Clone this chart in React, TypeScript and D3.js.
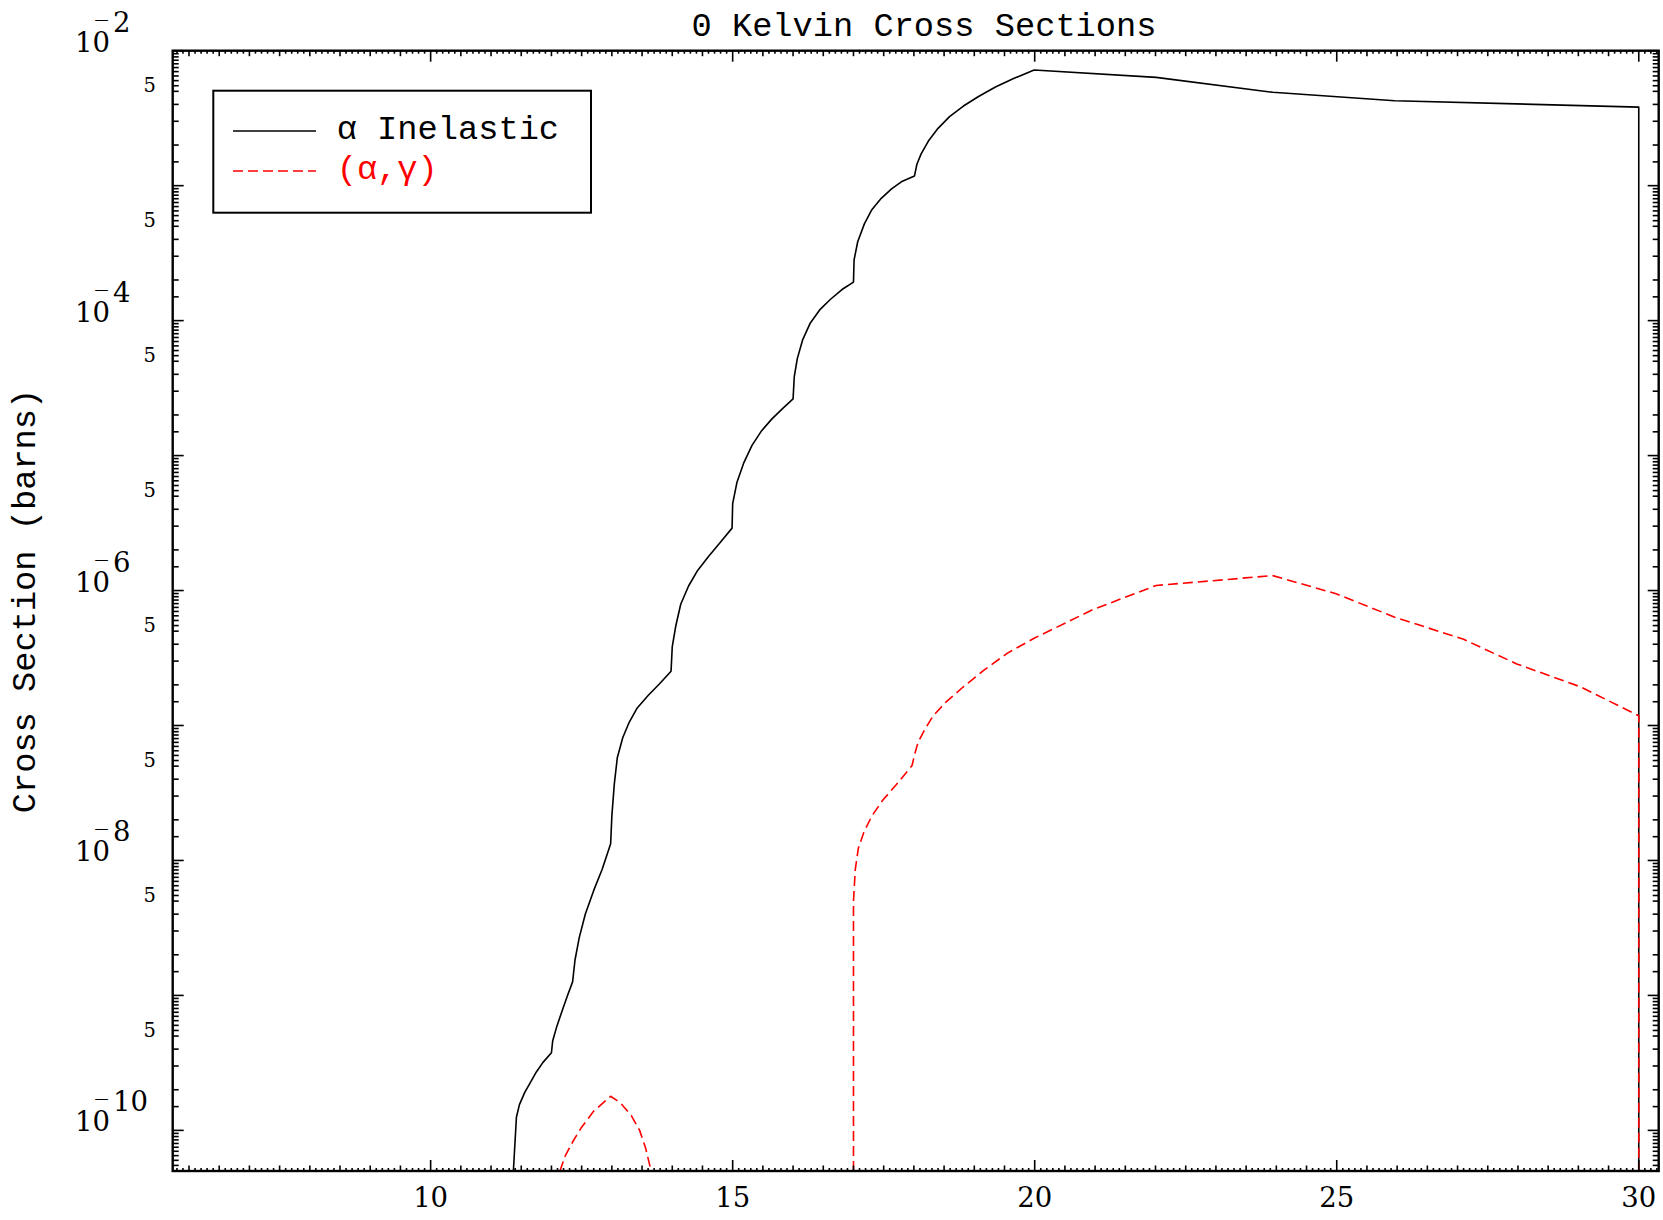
import React from "react";
import * as d3 from "d3";

// ---------- data ----------
const INEL_X = [11.37, 11.42, 11.47, 11.56, 11.65, 11.75, 11.86, 12.0, 12.02, 12.09, 12.18, 12.26, 12.35, 12.39, 12.46, 12.56, 12.7, 12.84, 12.98, 13.0, 13.04, 13.09, 13.18, 13.28, 13.42, 13.6, 13.79, 13.98, 14.0, 14.06, 14.14, 14.27, 14.42, 14.6, 14.79, 14.99, 15.0, 15.07, 15.18, 15.32, 15.48, 15.65, 15.83, 16.0, 16.02, 16.07, 16.16, 16.28, 16.44, 16.62, 16.81, 17.0, 17.01, 17.07, 17.18, 17.3, 17.46, 17.63, 17.81, 18.01, 18.05, 18.12, 18.24, 18.4, 18.59, 18.82, 19.07, 19.35, 19.65, 19.99, 22.01, 23.94, 25.96, 30.0, 30.0];
const INEL_Y = [0, 1.25e-10, 1.55e-10, 1.92e-10, 2.26e-10, 2.71e-10, 3.19e-10, 3.76e-10, 4.59e-10, 5.92e-10, 7.76e-10, 9.82e-10, 1.26e-9, 1.83e-9, 2.68e-9, 3.99e-9, 6.0e-9, 8.61e-9, 1.33e-8, 2.13e-8, 3.66e-8, 5.76e-8, 8.11e-8, 1.04e-7, 1.35e-7, 1.67e-7, 2.04e-7, 2.52e-7, 3.84e-7, 5.51e-7, 7.91e-7, 1.08e-6, 1.41e-6, 1.79e-6, 2.26e-6, 2.9e-6, 4.4e-6, 6.31e-6, 8.75e-6, 1.19e-5, 1.53e-5, 1.87e-5, 2.24e-5, 2.63e-5, 3.85e-5, 5.23e-5, 7.24e-5, 9.51e-5, 1.2e-4, 1.44e-4, 1.7e-4, 1.93e-4, 2.82e-4, 3.84e-4, 5.21e-4, 6.6e-4, 8.06e-4, 9.48e-4, 1.08e-3, 1.18e-3, 1.44e-3, 1.72e-3, 2.14e-3, 2.66e-3, 3.25e-3, 3.89e-3, 4.58e-3, 5.38e-3, 6.22e-3, 7.19e-3, 6.34e-3, 4.92e-3, 4.26e-3, 3.82e-3, 0];

// null marks a break in the (alpha,gamma) curve
const CAP_X = [12.14, 12.23, 12.35, 12.49, 12.7, 12.98, 13.14, 13.32, 13.46, 13.56, 13.65, 15.0, 17.0, 17.0, 17.03, 17.08, 17.17, 17.3, 17.48, 17.71, 17.97, 18.01, 18.07, 18.18, 18.32, 18.53, 18.81, 19.16, 19.55, 19.99, 20.96, 22.01, 23.94, 24.99, 25.96, 27.1, 27.98, 29.04, 30.0, 30.0];
const CAP_Y: (number | null)[] = [0, 6.49e-11, 8.2e-11, 1.04e-10, 1.39e-10, 1.79e-10, 1.6e-10, 1.29e-10, 1.0e-10, 7.36e-11, 0, null, 0, 5.0e-9, 8.57e-9, 1.23e-8, 1.61e-8, 2.12e-8, 2.78e-8, 3.65e-8, 5.05e-8, 6.05e-8, 7.52e-8, 9.33e-8, 1.18e-7, 1.49e-7, 1.92e-7, 2.57e-7, 3.44e-7, 4.43e-7, 7.21e-7, 1.09e-6, 1.29e-6, 9.46e-7, 6.35e-7, 4.35e-7, 2.86e-7, 1.93e-7, 1.18e-7, 0];

const X_DOMAIN = [5.73, 30.33];
const Y_DOMAIN = [5e-11, 1e-2];
const X_LABEL_TICKS = [10, 15, 20, 25, 30];
const Y_MINOR_FACTORS = [1.5, 2, 3, 4, 5, 5.5, 6, 6.5, 7, 7.5, 8, 8.5, 9, 9.5];
const Y_DECADE_LABELS = [-2, -4, -6, -8, -10];
const Y_FIVE_LABELS = [-3, -4, -5, -6, -7, -8, -9, -10];
const TITLE = "0 Kelvin Cross Sections";
const Y_TITLE = "Cross Section (barns)";
const LEGEND = ["\u03b1 Inelastic", "(\u03b1,\u03b3)"];

// ---------- layout ----------
const W = 1663;
const H = 1220;
const M = { left: 172.7, right: 1658.7, top: 50.7, bottom: 1171 };
const MONO = "'Liberation Mono', 'DejaVu Sans Mono', monospace";
const SERIF = "'DejaVu Serif', serif";

export default function App() {
  const x = d3.scaleLinear().domain(X_DOMAIN).range([M.left, M.right]);
  const y = d3.scaleLog().domain(Y_DOMAIN).range([M.bottom, M.top]);
  const yv = (v: number) => y(Math.max(v, Y_DOMAIN[0]));

  const inel = INEL_X.map((xx, i) => ({ x: xx, v: INEL_Y[i] }));
  const cap = CAP_X.map((xx, i) => ({ x: xx, v: CAP_Y[i] }));
  const line = d3
    .line<{ x: number; v: number | null }>()
    .defined((d) => d.v !== null)
    .x((d) => x(d.x))
    .y((d) => yv(d.v as number));

  // x ticks every 0.1
  const xTicks: { v: number; len: number }[] = [];
  for (let i = Math.ceil(X_DOMAIN[0] * 10); i <= Math.floor(X_DOMAIN[1] * 10); i++) {
    const len = i % 50 === 0 ? 11 : i % 5 === 0 ? 5.5 : 3;
    xTicks.push({ v: i / 10, len });
  }
  // y ticks
  const yTicks: { v: number; len: number }[] = [];
  for (let e = -11; e <= -2; e++) {
    [1, ...Y_MINOR_FACTORS].forEach((k) => {
      const v = k * Math.pow(10, e);
      if (v < Y_DOMAIN[0] * 0.999 || v > Y_DOMAIN[1] * 1.001) return;
      yTicks.push({ v, len: k === 1 ? 11 : 6 });
    });
  }

  const clipId = "plotClip";
  return (
    <svg
      width={W}
      height={H}
      style={{ position: "absolute", left: 0, top: 0, background: "#fff" }}
    >
      <rect x={0} y={0} width={W} height={H} fill="#fff" />
      <defs>
        <clipPath id={clipId}>
          <rect x={M.left} y={M.top} width={M.right - M.left} height={M.bottom - M.top} />
        </clipPath>
      </defs>

      {/* title */}
      <text x={691.5} y={36} fontFamily={MONO} fontSize={33.7} fill="#000">
        {TITLE}
      </text>

      {/* y title */}
      <text
        transform={`translate(35,601) rotate(-90)`}
        textAnchor="middle"
        fontFamily={MONO}
        fontSize={33.7}
        fill="#000"
      >
        {Y_TITLE}
      </text>

      {/* curves */}
      <g clipPath={`url(#${clipId})`} fill="none" strokeLinejoin="round">
        <path d={line(inel) || ""} stroke="#000" strokeWidth={1.6} />
        <path d={line(cap) || ""} stroke="#ff0000" strokeWidth={1.6} strokeDasharray="10,5" />
      </g>

      {/* ticks */}
      <g stroke="#000" strokeWidth={1.6}>
        {xTicks.map((t, i) => (
          <g key={"xt" + i}>
            <line x1={x(t.v)} x2={x(t.v)} y1={M.bottom} y2={M.bottom - t.len} />
            <line x1={x(t.v)} x2={x(t.v)} y1={M.top} y2={M.top + t.len} />
          </g>
        ))}
        {yTicks.map((t, i) => (
          <g key={"yt" + i}>
            <line x1={M.left} x2={M.left + t.len} y1={y(t.v)} y2={y(t.v)} />
            <line x1={M.right} x2={M.right - t.len} y1={y(t.v)} y2={y(t.v)} />
          </g>
        ))}
      </g>

      {/* frame */}
      <rect
        x={M.left}
        y={M.top}
        width={M.right - M.left}
        height={M.bottom - M.top}
        fill="none"
        stroke="#000"
        strokeWidth={2.4}
      />

      {/* x labels */}
      {X_LABEL_TICKS.map((v) => (
        <text
          key={"xl" + v}
          x={x(v)}
          y={1207}
          textAnchor="middle"
          fontFamily={SERIF}
          fontSize={27.5}
          fill="#000"
        >
          {String(v)}
        </text>
      ))}

      {/* y decade labels: 10 with a raised exponent; its minus sits above the 0 */}
      {Y_DECADE_LABELS.map((e) => {
        const ty = y(Math.pow(10, e));
        return (
          <g key={"yl" + e} fontFamily={SERIF} fill="#000">
            <text x={75} y={ty + 1} fontSize={27.5}>
              10
            </text>
            <text
              x={93}
              y={ty - 27}
              fontSize={11}
              textLength={17}
              lengthAdjust="spacingAndGlyphs"
            >
              {"\u2212"}
            </text>
            <text x={113} y={ty - 19} fontSize={27.5}>
              {String(-e)}
            </text>
          </g>
        );
      })}
      {Y_FIVE_LABELS.map((e) => (
        <text
          key={"y5" + e}
          x={156}
          y={y(5 * Math.pow(10, e)) + 0.5}
          textAnchor="end"
          fontFamily={SERIF}
          fontSize={19.5}
          fill="#000"
        >
          5
        </text>
      ))}

      {/* legend */}
      <rect x={213.3} y={90.7} width={377.7} height={122} fill="#fff" stroke="#000" strokeWidth={2} />
      <line x1={233} x2={316} y1={131} y2={131} stroke="#000" strokeWidth={1.6} />
      <text x={336.7} y={138.5} fontFamily={MONO} fontSize={33.7} fill="#000">
        {LEGEND[0]}
      </text>
      <line x1={233} x2={316} y1={171} y2={171} stroke="#ff0000" strokeWidth={1.6} strokeDasharray="10,5" />
      <text x={336.7} y={178.5} fontFamily={MONO} fontSize={33.7} fill="#ff0000">
        {LEGEND[1]}
      </text>
    </svg>
  );
}
